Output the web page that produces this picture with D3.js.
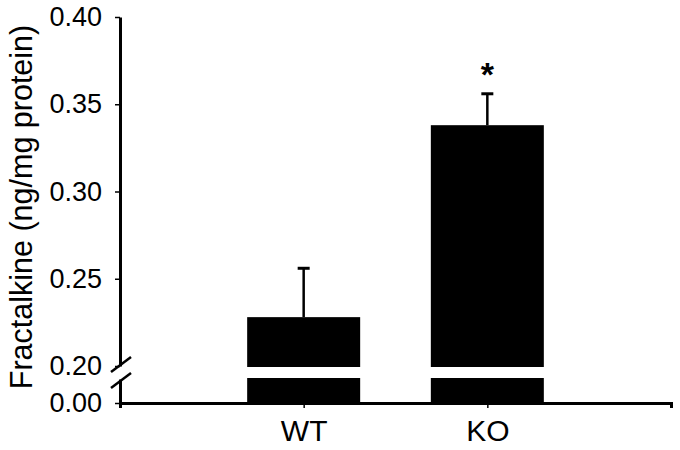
<!DOCTYPE html>
<html lang="en">
<head>
<meta charset="utf-8">
<title>Fractalkine WT vs KO</title>
<script src="https://cdn.jsdelivr.net/npm/d3@7"></script>
<style>
  body { margin: 0; background: #fff; }
  svg { display: block; }
  text { font-family: "Liberation Sans", Arial, sans-serif; fill: #000; }
</style>
</head>
<body>
<svg width="680" height="450"></svg>
<script>
// data
var groups = ["WT", "KO"];
var means = [0.228, 0.338];
var errors = [0.028, 0.018];
var signif = ["", "*"];
var topTicks = [0.20, 0.25, 0.30, 0.35, 0.40];
var bottomTicks = [0.00];

var svg = d3.select("svg");

var left = 120, right = 671;
/** upper part of the broken axis and the stub at zero */
var yTop = d3.scaleLinear().domain([0.20, 0.40]).range([366, 17]);
var yBot = d3.scaleLinear().domain([0, 0.02]).range([403, 379]);
var x = d3.scalePoint().domain(groups).range([left, right]).padding(1);
var barW = 113;

/** bars: top piece, bottom piece, white gap shows the break */
var bars = svg.append("g");
bars.selectAll(".bar-top")
  .data(means)
  .enter().append("rect")
  .attr("x", function(_, i) { return x(groups[i]) - barW / 2; })
  .attr("y", function(d) { return yTop(d); })
  .attr("width", barW)
  .attr("height", function(d) { return yTop(0.20) + 1 - yTop(d); })
  .attr("fill", "#000");
bars.selectAll(".bar-bot")
  .data(means)
  .enter().append("rect")
  .attr("x", function(_, i) { return x(groups[i]) - barW / 2; })
  .attr("y", yBot(0.02) - 1)
  .attr("width", barW)
  .attr("height", yBot(0) - yBot(0.02) + 1)
  .attr("fill", "#000");

/** error bars (upper only) */
var err = svg.append("g").attr("stroke", "#000").attr("stroke-width", 2.5);
err.selectAll(".stem")
  .data(means)
  .enter().append("line")
  .attr("x1", function(_, i) { return x(groups[i]); })
  .attr("x2", function(_, i) { return x(groups[i]); })
  .attr("y1", function(d) { return yTop(d); })
  .attr("y2", function(d, i) { return yTop(d + errors[i]); });
err.selectAll(".cap")
  .data(means)
  .enter().append("line")
  .attr("x1", function(_, i) { return x(groups[i]) - 6; })
  .attr("x2", function(_, i) { return x(groups[i]) + 6; })
  .attr("y1", function(d, i) { return yTop(d + errors[i]); })
  .attr("y2", function(d, i) { return yTop(d + errors[i]); })
  .attr("stroke-width", 3);

/** significance star */
svg.selectAll(".star")
  .data(means)
  .enter().append("text")
  .attr("x", function(_, i) { return x(groups[i]); })
  .attr("y", function(d, i) { return yTop(d + errors[i]) - 8; })
  .attr("text-anchor", "middle")
  .style("font-size", "34px")
  .style("font-weight", "bold")
  .text(function(_, i) { return signif[i]; });

/** y axes */
function styleAxis(g) {
  g.select(".domain").attr("stroke-width", 3);
  g.selectAll(".tick line").attr("stroke-width", 1.5);
  g.selectAll(".tick text").style("font-size", "27px");
}
svg.append("g")
  .attr("transform", "translate(" + left + ",0)")
  .call(d3.axisLeft(yTop).tickValues(topTicks).tickFormat(d3.format(".2f")).tickSize(5).tickSizeOuter(0).tickPadding(13))
  .call(styleAxis);
svg.append("g")
  .attr("transform", "translate(" + left + ",0)")
  .call(d3.axisLeft(yBot).tickValues(bottomTicks).tickFormat(d3.format(".2f")).tickSize(5).tickSizeOuter(0).tickPadding(13))
  .call(styleAxis);

/** break marks on the y axis */
var brk = svg.append("g").attr("stroke", "#000").attr("stroke-width", 2.5);
brk.append("line").attr("x1", 111).attr("y1", 372).attr("x2", 131).attr("y2", 357);
brk.append("line").attr("x1", 111).attr("y1", 388).attr("x2", 131).attr("y2", 373);

/** x axis */
var xg = svg.append("g")
  .attr("transform", "translate(0," + yBot(0) + ")")
  .call(d3.axisBottom(x).tickSize(5).tickSizeOuter(5).tickPadding(12));
xg.select(".domain").attr("stroke-width", 3);
xg.selectAll(".tick line").attr("stroke-width", 1.5);
xg.selectAll(".tick text").style("font-size", "30px").attr("dy", null).attr("y", 38);

/** y title */
svg.append("text")
  .attr("transform", "translate(32,207) rotate(-90)")
  .attr("text-anchor", "middle")
  .style("font-size", "30.5px")
  .text("Fractalkine (ng/mg protein)");
</script>
</body>
</html>
